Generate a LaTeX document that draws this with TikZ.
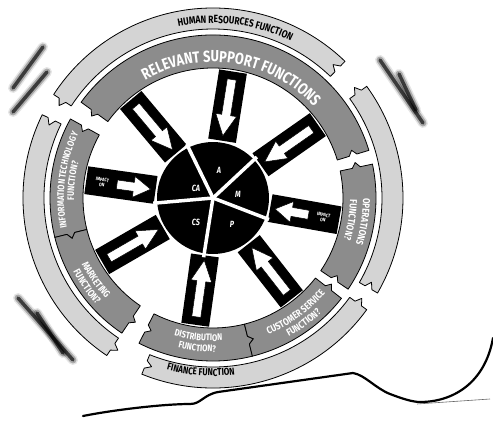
\documentclass[tikz,border=0pt]{standalone}
\usepackage{fontspec}
\newfontfamily\cf{Fira Sans}[FakeStretch=0.8]
\usetikzlibrary{decorations.text}
\definecolor{bandd}{HTML}{8C8C8C}
\definecolor{bandl}{HTML}{D4D4D4}
\newcommand\fsz[1]{\cf\bfseries\fontsize{#1}{#1}\selectfont}
% ring segment: ri ro a1 a2 fill  (notch at start, tab at end)
\newcommand\ringseg[5]{%
  \pgfmathsetmacro\segmid{(#1+#2)/2}%
  \draw[fill=#5, line width=0.8, line join=round]
    (#3:#1) -- (#3:{\segmid-4}) -- ({#3+2}:\segmid) -- (#3:{\segmid+4}) -- (#3:#2)
    arc[start angle=#3, end angle=#4, radius=#2]
    -- (#4:{\segmid+4}) -- ({#4+2}:\segmid) -- (#4:{\segmid-4}) -- (#4:#1)
    arc[start angle=#4, end angle=#3, radius=#1] -- cycle;}
% text on arc: r a1 a2 size colour text
\newcommand\arctext[6]{%
  \path[decorate, decoration={text along path, text align=center, text color=#5,
    text={|\fsz{#4}|#6}}] (#2:#1) arc[start angle=#2, end angle=#3, radius=#1];}
\newcommand\spoke[1]{%
  \begin{scope}[rotate=#1]
    \fill[black] (58,-14) rectangle (128,14);
    \filldraw[fill=white, draw=black, line width=0.5]
      (120,-4.5) -- (84,-4.5) -- (84,-10.5) -- (63,0) -- (84,10.5) -- (84,4.5) -- (120,4.5) -- cycle;
  \end{scope}}
\newcommand\impactspoke[3]{%
  \begin{scope}[rotate=#1]
    \fill[black] (58,-14) rectangle (128,14);
    \filldraw[fill=white, draw=black, line width=0.5]
      (97,-4.5) -- (80,-4.5) -- (80,-10.5) -- (63,0) -- (80,10.5) -- (80,4.5) -- (97,4.5) -- cycle;
    \node[impactlbl, rotate=#2] (#3) at (112,0) {IMPACT\\ON};
  \end{scope}}
\newcommand\blurline[2]{%
  \draw[line cap=round, black, opacity=0.10, line width=10] #1 -- #2;
  \draw[line cap=round, black, opacity=0.25, line width=7] #1 -- #2;
  \draw[line cap=round, black, opacity=0.65, line width=3.5] #1 -- #2;}
\tikzset{
  impactlbl/.style={text=white, font=\fsz{5}, align=center, inner sep=0pt},
  pielbl/.style={text=white, font=\cf\bfseries\itshape\fontsize{9}{9}\selectfont, inner sep=0pt}
}
\begin{document}
\begin{tikzpicture}[x=1pt,y=1pt]
\useasboundingbox (-213,-223) rectangle (280,198);
\fill[white] (-213,-223) rectangle (280,198);

% motion strokes
\blurline{(-170,151)}{(-200,110)}
\blurline{(-166,126)}{(-200,86)}
\blurline{(167,138)}{(210,75)}
\blurline{(186,124)}{(203,88)}
\blurline{(-195,-100)}{(-140,-162)}
\blurline{(-176,-115)}{(-150,-155)}

% bottom outline
\draw[line width=2.2, line join=round, line cap=round]
  (-130,-218) .. controls (-100,-212) and (-50,-206) .. (-23,-206)
  .. controls (-12,-206) and (-10,-197) .. (5,-194) -- (140,-175)
  .. controls (152,-177) and (162,-190) .. (177,-196)
  .. controls (190,-201) and (200,-204) .. (207,-204)
  .. controls (240,-204) and (272,-185) .. (280,-140);
\draw[line width=0.6, black!60] (204,-206) -- (277,-201);

% spokes
\spoke{81}
\spoke{130}
\impactspoke{172}{352}{impL}
\spoke{210}
\spoke{262}
\spoke{308}
\impactspoke{350}{350}{impR}
\spoke{35}

% pie
\fill[black] (0,0) circle (56);
\foreach \a in {43,116,185,261,339} \draw[white, line width=3.5] (0,0) -- (\a:60);
\node[pielbl] (lA) at (6,28) {A};
\node[pielbl] (lCA) at (-17,10) {CA};
\node[pielbl] (lM) at (25,4) {M};
\node[pielbl] (lCS) at (-17,-24) {CS};
\node[pielbl] (lP) at (19,-26) {P};

% inner bands
\ringseg{130}{163}{17}{144}{bandd}
\ringseg{130}{163}{151}{194}{bandd}
\ringseg{130}{163}{194}{236}{bandd}
\ringseg{130}{163}{243}{284}{bandd}
\ringseg{130}{163}{284}{322}{bandd}
\ringseg{130}{163}{326}{372}{bandd}
% outer bands
\ringseg{169}{190}{46}{147}{bandl}
\ringseg{169}{190}{154}{236}{bandl}
\ringseg{169}{190}{248}{324}{bandl}
\ringseg{169}{190}{330}{396}{bandl}

% texts
\arctext{175}{112.5}{52.5}{10.5}{black}{HUMAN RESOURCES FUNCTION}
\arctext{136}{126}{36}{16}{white}{RELEVANT SUPPORT FUNCTIONS}
\arctext{149}{203}{143}{9.5}{white}{INFORMATION TECHNOLOGY}
\arctext{139}{203}{143}{9.5}{white}{FUNCTION?}
\arctext{150}{17}{-35}{10}{white}{OPERATIONS}
\arctext{137}{17}{-35}{10}{white}{FUNCTION?}
\arctext{147}{196}{234}{10}{white}{MARKETING}
\arctext{158}{196}{234}{10}{white}{FUNCTION?}
\arctext{143}{245}{283}{9.5}{white}{DISTRIBUTION}
\arctext{154}{245}{283}{9.5}{white}{FUNCTION?}
\arctext{147}{284}{328}{10}{white}{CUSTOMER SERVICE}
\arctext{158}{284}{328}{10}{white}{FUNCTION?}
\arctext{178}{244}{288}{10}{black}{FINANCE FUNCTION}
\end{tikzpicture}
\end{document}
